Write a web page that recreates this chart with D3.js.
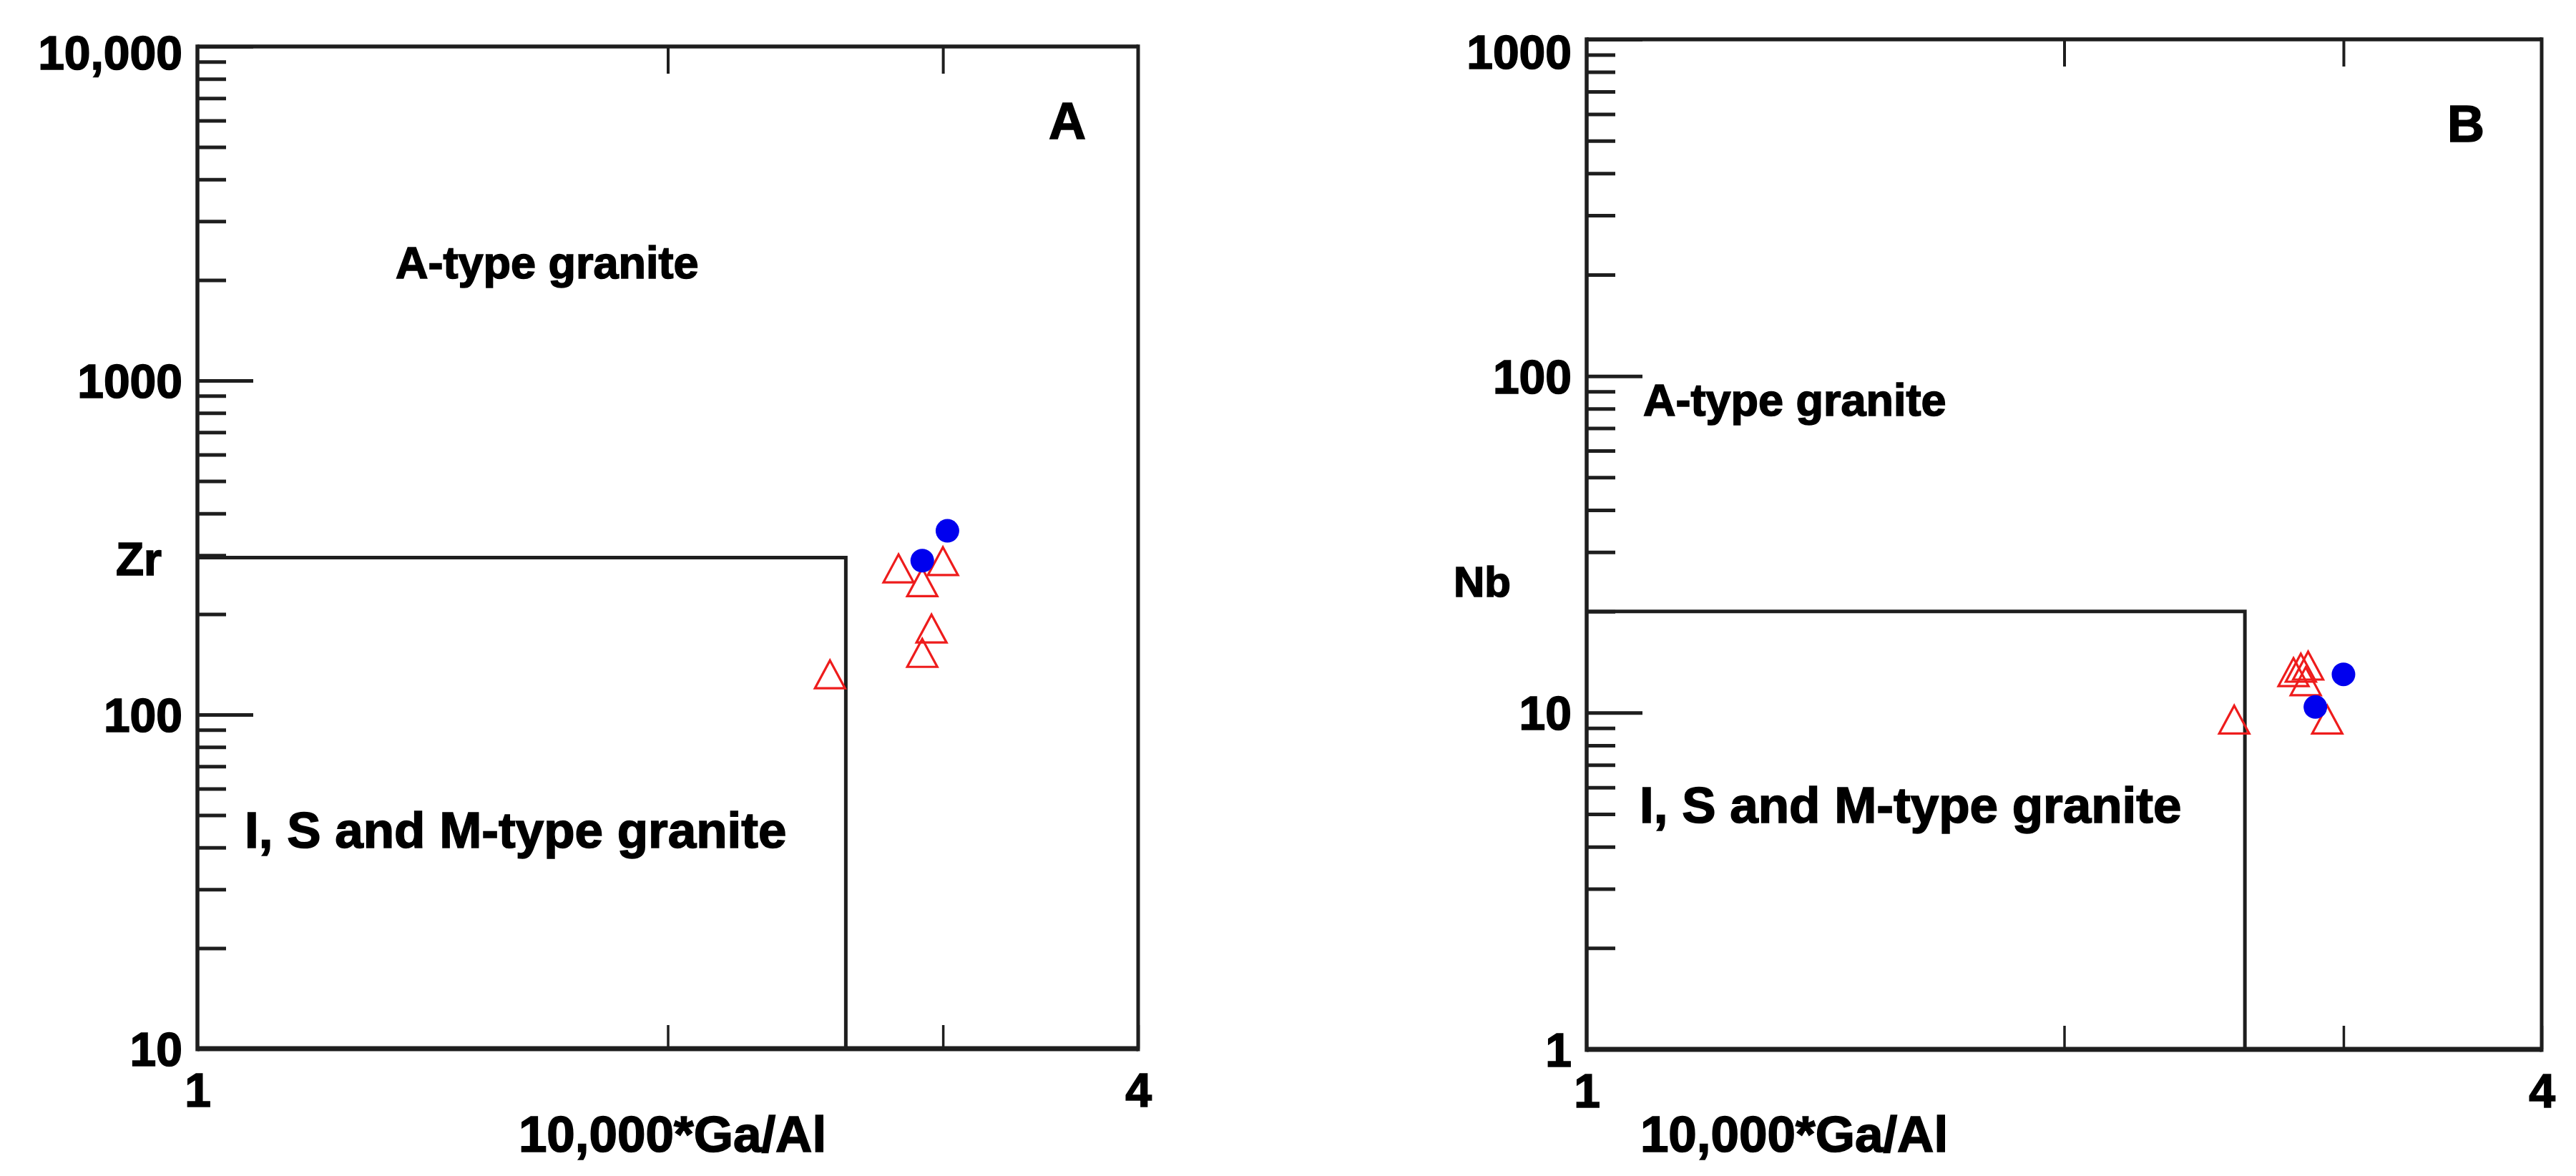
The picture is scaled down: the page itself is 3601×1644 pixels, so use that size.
<!DOCTYPE html>
<html>
<head>
<meta charset="utf-8">
<script src="https://cdn.jsdelivr.net/npm/d3@7"></script>
<style>
  html, body { margin: 0; padding: 0; background: #ffffff; }
  svg { display: block; }
  text { font-family: "Liberation Sans", Arial, Helvetica, sans-serif; font-weight: bold; fill: #000; stroke: #000; stroke-width: 1.6px; }
</style>
</head>
<body>
<svg id="chart" width="3601" height="1644"></svg>
<script>
// ---------------- DATA ----------------
const xDomain = [1, 4];
const xLabelTicks = [1, 4];
const xInnerTicks = [2, 3, 4];
const xTopTicks = [2, 3];
const xTitle = "10,000*Ga/Al";

// Panel A : Zr vs 10,000*Ga/Al
const aYDomain = [10, 10000];
const aYMajor = [10, 100, 1000, 10000];
const aYMajorLabels = ["10", "100", "1000", "10,000"];
const aYTitle = "Zr";
const aPanelLetter = "A";
const aBoundaryX = 2.6;
const aBoundaryY = 295;
const aTriX = [2.81, 2.91, 3.00, 2.95, 2.91, 2.54];
const aTriY = [274, 249, 288, 181, 153, 132];
const aCircX = [3.02, 2.91];
const aCircY = [355, 289];

// Panel B : Nb vs 10,000*Ga/Al
const bYDomain = [1, 1000];
const bYMajor = [1, 10, 100, 1000];
const bYMajorLabels = ["1", "10", "100", "1000"];
const bYTitle = "Nb";
const bPanelLetter = "B";
const bBoundaryX = 2.6;
const bBoundaryY = 20;
const bTriX = [2.56, 2.93, 2.79, 2.85, 2.82, 2.84];
const bTriY = [9.54, 9.54, 13.2, 13.8, 13.6, 12.4];
const bCircX = [3.00, 2.88];
const bCircY = [13.0, 10.4];

const regionUpper = "A-type granite";
const regionLower = "I, S and M-type granite";

// ---------------- LAYOUT / STYLE ----------------
const svg = d3.select("#chart");
const FRAME = "#1e1e1e";
const RED = "#ee1c1c";
const BLUE = "#0000ee";
const TICK_FS = 66;

function minorTicks(domain) {
  const out = [];
  for (let d = domain[0]; d < domain[1]; d *= 10) {
    for (let k = 2; k <= 9; k++) out.push(d * k);
  }
  return out;
}

function drawPanel(cfg) {
  const { left, right, top, bottom } = cfg.box;
  const x = d3.scaleLog().domain(xDomain).range([left, right]);
  const y = d3.scaleLog().domain(cfg.yDomain).range([bottom, top]);
  const g = svg.append("g");

  // minor y ticks (inward)
  const yMinorAxis = d3.axisLeft(y).tickValues(minorTicks(cfg.yDomain)).tickSize(-40).tickFormat("");
  const gm = g.append("g").attr("transform", `translate(${left},0)`).call(yMinorAxis);
  gm.select(".domain").remove();
  gm.selectAll(".tick line").attr("stroke", FRAME).attr("stroke-width", 5);

  // major y ticks + labels
  const yMajorAxis = d3.axisLeft(y).tickValues(cfg.yMajor).tickSize(-78).tickPadding(21)
    .tickFormat((d, i) => cfg.yMajorLabels[i]);
  const gM = g.append("g").attr("transform", `translate(${left},0)`).call(yMajorAxis);
  gM.select(".domain").remove();
  gM.selectAll(".tick line").attr("stroke", FRAME).attr("stroke-width", 5);
  gM.selectAll(".tick text")
    .attr("font-size", TICK_FS).attr("font-weight", "bold")
    .attr("font-family", '"Liberation Sans", Arial, sans-serif')
    .attr("fill", "#000")
    .attr("dy", (d) => (d === cfg.yDomain[1] ? (cfg.topLabelShift + 0.358 * TICK_FS) + "px" : (0.358 * TICK_FS) + "px"));

  // bottom x ticks (inward)
  const xInnerAxis = d3.axisBottom(x).tickValues(xInnerTicks).tickSize(-33).tickFormat("");
  const gx = g.append("g").attr("transform", `translate(0,${bottom})`).call(xInnerAxis);
  gx.select(".domain").remove();
  gx.selectAll(".tick line").attr("stroke", FRAME).attr("stroke-width", 3.5);

  // top x ticks (inward)
  const xTopAxis = d3.axisTop(x).tickValues(xTopTicks).tickSize(-38).tickFormat("");
  const gt = g.append("g").attr("transform", `translate(0,${top})`).call(xTopAxis);
  gt.select(".domain").remove();
  gt.selectAll(".tick line").attr("stroke", FRAME).attr("stroke-width", 4);

  // x tick labels
  const xLabAxis = d3.axisBottom(x).tickValues(xLabelTicks).tickSize(0).tickPadding(34).tickFormat(d3.format("d"));
  const gl = g.append("g").attr("transform", `translate(0,${bottom})`).call(xLabAxis);
  gl.select(".domain").remove();
  gl.selectAll(".tick text")
    .attr("font-size", TICK_FS).attr("font-weight", "bold")
    .attr("font-family", '"Liberation Sans", Arial, sans-serif')
    .attr("fill", "#000");

  // frame
  g.append("line").attr("x1", left).attr("x2", right).attr("y1", top).attr("y2", top)
    .attr("stroke", FRAME).attr("stroke-width", 5.5);
  g.append("line").attr("x1", left).attr("x2", right).attr("y1", bottom).attr("y2", bottom)
    .attr("stroke", FRAME).attr("stroke-width", 7);
  g.append("line").attr("x1", left).attr("x2", left).attr("y1", top - 2.75).attr("y2", bottom + 3.5)
    .attr("stroke", FRAME).attr("stroke-width", 5.5);
  g.append("line").attr("x1", right).attr("x2", right).attr("y1", top - 2.75).attr("y2", bottom + 3.5)
    .attr("stroke", FRAME).attr("stroke-width", 5);

  // field boundary
  const bnd = [[xDomain[0], cfg.boundaryY], [cfg.boundaryX, cfg.boundaryY], [cfg.boundaryX, cfg.yDomain[0]]];
  g.append("path")
    .attr("d", d3.line().x(d => x(d[0])).y(d => y(d[1]))(bnd))
    .attr("fill", "none").attr("stroke", FRAME).attr("stroke-width", 5);

  // region labels
  g.append("text").attr("x", cfg.upperLabel[0]).attr("y", cfg.upperLabel[1] + 0.358 * 63)
    .attr("font-size", 63).text(regionUpper);
  g.append("text").attr("x", cfg.lowerLabel[0]).attr("y", cfg.lowerLabel[1] + 0.358 * 71)
    .attr("font-size", 71).text(regionLower);

  // panel letter
  g.append("text").attr("x", cfg.letterPos[0]).attr("y", cfg.letterPos[1] + 0.358 * 72)
    .attr("text-anchor", "middle").attr("font-size", 72).text(cfg.letter);

  // y title
  g.append("text").attr("x", cfg.yTitlePos[0]).attr("y", cfg.yTitlePos[1] + 0.358 * cfg.yTitleFs)
    .attr("text-anchor", "middle").attr("font-size", cfg.yTitleFs).text(cfg.yTitle);

  // x title
  g.append("text").attr("x", cfg.xTitlePos[0]).attr("y", cfg.xTitlePos[1])
    .attr("text-anchor", "middle").attr("font-size", 71).text(xTitle);

  // triangles (open, red)
  const tw = 42, th = 39;
  const triPath = `M0,${-th / 2}L${tw / 2},${th / 2}L${-tw / 2},${th / 2}Z`;
  const tri = cfg.triX.map((v, i) => [v, cfg.triY[i]]);
  g.append("g").selectAll("path").data(tri).join("path")
    .attr("d", triPath)
    .attr("transform", d => `translate(${x(d[0])},${y(d[1])})`)
    .attr("fill", "none").attr("stroke", RED).attr("stroke-width", 3.2);

  // circles (filled, blue)
  const circ = cfg.circX.map((v, i) => [v, cfg.circY[i]]);
  g.append("g").selectAll("circle").data(circ).join("circle")
    .attr("cx", d => x(d[0])).attr("cy", d => y(d[1])).attr("r", 16.5)
    .attr("fill", BLUE);
}

drawPanel({
  box: { left: 276, right: 1591, top: 65, bottom: 1466 },
  yDomain: aYDomain, yMajor: aYMajor, yMajorLabels: aYMajorLabels, topLabelShift: 8,
  boundaryX: aBoundaryX, boundaryY: aBoundaryY,
  triX: aTriX, triY: aTriY, circX: aCircX, circY: aCircY,
  upperLabel: [553, 366], lowerLabel: [342, 1160],
  letter: aPanelLetter, letterPos: [1492, 168],
  yTitle: aYTitle, yTitleFs: 64, yTitlePos: [194, 781],
  xTitlePos: [940, 1610]
});

drawPanel({
  box: { left: 2218, right: 3553, top: 55, bottom: 1467 },
  yDomain: bYDomain, yMajor: bYMajor, yMajorLabels: bYMajorLabels, topLabelShift: 17,
  boundaryX: bBoundaryX, boundaryY: bBoundaryY,
  triX: bTriX, triY: bTriY, circX: bCircX, circY: bCircY,
  upperLabel: [2297, 558], lowerLabel: [2292, 1125],
  letter: bPanelLetter, letterPos: [3447, 172],
  yTitle: bYTitle, yTitleFs: 60, yTitlePos: [2072, 813],
  xTitlePos: [2508, 1610]
});
</script>
</body>
</html>
